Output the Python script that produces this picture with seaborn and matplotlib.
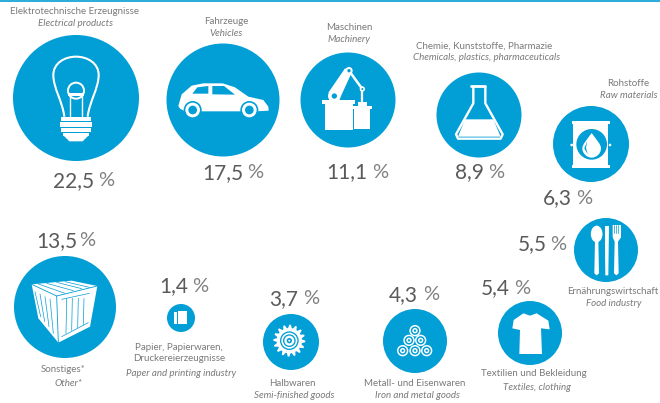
import numpy as np
import pandas as pd
import seaborn as sns
import matplotlib.pyplot as plt
from matplotlib.patches import Circle, Polygon, PathPatch, Rectangle, Ellipse
from matplotlib.path import Path

# data
sectors_de = ['Elektrotechnische Erzeugnisse', 'Fahrzeuge', 'Maschinen', 'Chemie, Kunststoffe, Pharmazie',
              'Rohstoffe', 'Ernährungswirtschaft', 'Textilien und Bekleidung', 'Metall- und Eisenwaren',
              'Halbwaren', 'Papier, Papierwaren,\nDruckereierzeugnisse', 'Sonstiges*']
sectors_en = ['Electrical products', 'Vehicles', 'Machinery', 'Chemicals, plastics, pharmaceuticals',
              'Raw materials', 'Food industry', 'Textiles, clothing', 'Iron and metal goods',
              'Semi-finished goods', 'Paper and printing industry', 'Other*']
shares = [22.5, 17.5, 11.1, 8.9, 6.3, 5.5, 5.4, 4.3, 3.7, 1.4, 13.5]

# layout in picture pixels
bubble_x = [76, 223, 348, 479, 591, 606, 530, 415, 291, 181, 65]
bubble_y = [98, 100, 100, 115, 144, 250, 333, 341, 342, 318, 307]
bubble_r = [63, 56.5, 47.5, 42.5, 38, 32, 32, 32, 28, 14, 51]
num_x = [53, 202, 326, 455, 543, 518, 481, 389, 269, 159, 36]
pct_x = [98, 247, 372, 488, 576, 550, 514, 423, 303, 192, 79]
num_y = [181, 173, 172, 172, 198, 244, 288, 295, 299, 286, 241]
de_x = [75, 226, 349, 484, 628, 613, 534, 415, 292, 179, 63]
de_y = [12, 21, 28, 46, 83, 292, 373, 383, 383, 353, 370]
en_x = [75, 226, 349, 487, 629, 614, 537, 417, 294, 181, 68]
en_y = [24, 34, 40, 58, 96, 304, 387, 396, 395, 374, 383]

BLUE = '#029ed6'
WHITE = 'white'
GREY = '#7a7a7a'
DARK = '#5a5a5a'

sns.set_theme(style='white')
plt.rcParams['font.family'] = ['Lato', 'DejaVu Sans']

fig = plt.figure(figsize=(6.6, 4.03), dpi=100)
ax = fig.add_axes([0, 0, 1, 1])

df = pd.DataFrame({'sector': sectors_de, 'x': bubble_x, 'y': bubble_y, 'r': bubble_r})
sizes = {s: (2 * r * 0.72) ** 2 for s, r in zip(sectors_de, bubble_r)}
sns.scatterplot(data=df, x='x', y='y', size='sector', sizes=sizes, color=BLUE, linewidth=0,
                legend=False, ax=ax, zorder=2)
ax.set_xlim(0, 660)
ax.set_ylim(403, 0)
ax.axis('off')
ax.axhline(0.6, color=BLUE, lw=1.2)

for i in range(len(shares)):
    ax.text(num_x[i], num_y[i], f'{shares[i]:.1f}'.replace('.', ','), fontsize=15, color=DARK,
            ha='left', va='center')
    ax.text(pct_x[i], num_y[i], '%', fontsize=14.5, color='#808080', ha='left', va='center')
    ax.text(de_x[i], de_y[i], sectors_de[i], fontsize=7.0, color=GREY, ha='center', va='center',
            linespacing=1.3)
    ax.text(en_x[i], en_y[i], sectors_en[i], fontsize=7.0, color=GREY, style='italic',
            ha='center', va='center')


# icon helpers: coordinates are 3x zoom units from an origin
def pts(ox, oy, arr):
    return [(ox + a / 3, oy + b / 3) for a, b in arr]


def poly(ox, oy, arr, color=WHITE, z=3):
    ax.add_patch(Polygon(pts(ox, oy, arr), closed=True, fc=color, ec='none', zorder=z))


def line(ox, oy, arr, lw=1.4, color=WHITE, z=3):
    p = pts(ox, oy, arr)
    ax.plot([a for a, b in p], [b for a, b in p], color=color, lw=lw, zorder=z, solid_capstyle='round',
            solid_joinstyle='round')


def circ(ox, oy, x, y, r, color=WHITE, z=3):
    ax.add_patch(Circle((ox + x / 3, oy + y / 3), r / 3, fc=color, ec='none', zorder=z))


def box(ox, oy, x0, y0, x1, y1, color=WHITE, z=3):
    ax.add_patch(Rectangle((ox + x0 / 3, oy + y0 / 3), (x1 - x0) / 3, (y1 - y0) / 3, fc=color, ec='none', zorder=z))


# bulb
verts = pts(0, 0, [(193, 350), (188, 305), (160, 265), (160, 225), (160, 190), (193, 170), (228, 170),
                   (263, 170), (296, 190), (296, 225), (296, 265), (268, 305), (263, 350)])
codes = [Path.MOVETO] + [Path.CURVE4] * 12
ax.add_patch(PathPatch(Path(verts, codes), fc='none', ec=WHITE, lw=1.5, zorder=3))
circ(0, 0, 228, 272, 27)
circ(0, 0, 228, 272, 21, BLUE, 4)
box(0, 0, 205, 278, 252, 287, WHITE, 5)
line(0, 0, [(210, 288), (210, 348)], 1.0)
line(0, 0, [(247, 288), (247, 348)], 1.0)
for y0, y1, w in [(350, 364, 46), (367, 381, 47), (384, 396, 46), (398, 408, 40)]:
    box(0, 0, 228 - w, y0, 228 + w, y1)
poly(0, 0, [(190, 406), (266, 406), (248, 424), (208, 424)])

# car
poly(0, 0, [(535, 318), (545, 283), (575, 257), (610, 250), (668, 250), (705, 262), (745, 290), (790, 300),
            (805, 320), (806, 332), (770, 334), (725, 334), (600, 334), (555, 334), (540, 326)])
poly(0, 0, [(577, 281), (592, 262), (625, 258), (625, 281)], BLUE, 4)
poly(0, 0, [(637, 258), (672, 258), (705, 284), (637, 283)], BLUE, 4)
for cx in (578, 748):
    circ(0, 0, cx, 330, 27, BLUE, 4)
    circ(0, 0, cx, 330, 22, WHITE, 5)
    circ(0, 0, cx, 330, 13, BLUE, 6)

# machine
o = (300, 50)
box(*o, 75, 160, 160, 240)
box(*o, 65, 150, 165, 162)
box(*o, 162, 178, 210, 238)
box(*o, 155, 168, 217, 178)
box(*o, 175, 157, 200, 168)
poly(*o, [(85, 128), (135, 55), (155, 68), (122, 140)])
circ(*o, 147, 62, 11)
circ(*o, 147, 62, 5, BLUE, 4)
circ(*o, 103, 138, 19, WHITE, 4)
circ(*o, 103, 138, 8, BLUE, 5)
line(*o, [(147, 62), (187, 117)], 1.8)
circ(*o, 187, 117, 8)
circ(*o, 187, 117, 3, BLUE, 4)
line(*o, [(187, 117), (187, 155)], 1.6)

# flask
o = (330, 0)
line(*o, [(430, 262), (430, 310), (378, 403), (384, 416), (512, 416), (518, 403), (466, 310), (466, 262)], 1.7)
line(*o, [(423, 258), (466, 258)], 2)
poly(*o, [(405, 358), (490, 358), (512, 410), (384, 410)])

# barrel
o = (555, 105)
box(*o, 55, 50, 160, 190)
box(*o, 50, 48, 165, 58)
box(*o, 50, 180, 165, 190)
circ(*o, 50, 120, 4)
circ(*o, 165, 120, 4)
circ(*o, 110, 118, 46, BLUE, 4)
verts = pts(*o, [(110, 84), (95, 105), (82, 118), (82, 130), (82, 146), (96, 158), (110, 158),
                 (124, 158), (138, 146), (138, 130), (138, 118), (125, 105), (110, 84)])
ax.add_patch(PathPatch(Path(verts, [Path.MOVETO] + [Path.CURVE4] * 12), fc=WHITE, ec='none', zorder=5))
poly(*o, [(97, 108), (88, 130), (98, 148), (93, 128)], BLUE, 6)

# cutlery
o = (330, 200)
ax.add_patch(Ellipse((o[0] + 800 / 3, o[1] + 102 / 3), 35 / 3, 50 / 3, fc=WHITE, ec='none', zorder=3))
poly(*o, [(795, 120), (805, 120), (807, 220), (800, 226), (793, 220)])
poly(*o, [(825, 78), (837, 78), (835, 226), (826, 226), (825, 150)])
poly(*o, [(848, 75), (873, 75), (873, 112), (864, 125), (866, 220), (859, 226), (852, 220), (854, 125), (848, 112)])
for x in (853, 859, 865):
    line(*o, [(x, 74), (x, 100)], 0.5, BLUE, 4)

# t-shirt
poly(*o, [(580, 340), (600, 347), (620, 340), (655, 362), (659, 388), (633, 385), (636, 462), (568, 462), (570, 390),
          (547, 385), (551, 360)])

# rolls
for x, y in [(255, 392), (237, 421), (272, 421), (218, 452), (255, 452), (290, 452)]:
    circ(*o, x, y, 17)
    circ(*o, x, y, 12.5, BLUE, 4)
    circ(*o, x, y, 8, WHITE, 5)
    circ(*o, x, y, 3.5, BLUE, 6)

# gear
o = (260, 312)
ang = np.linspace(0, 2 * np.pi, 64, endpoint=False)
teeth = [48 if int(i / 2) % 2 == 0 else 38 for i in range(64)]
poly(*o, [(88 + t * np.cos(a), 86 + t * np.sin(a)) for t, a in zip(teeth, ang)])
circ(*o, 88, 86, 28, BLUE, 4)
circ(*o, 88, 86, 24, WHITE, 5)
circ(*o, 88, 86, 19, BLUE, 6)
circ(*o, 88, 86, 15, WHITE, 7)
circ(*o, 88, 86, 8, BLUE, 8)
circ(*o, 88, 86, 3, WHITE, 9)

# paper
o = (0, 200)
box(*o, 535, 332, 562, 372)
box(*o, 522, 336, 532, 372)

# crate
o = (20, 270)
poly(*o, [(35, 43), (155, 32), (232, 48), (210, 170), (115, 218), (55, 145)])
line(*o, [(35, 43), (110, 78), (232, 48)], 0.6, BLUE, 4)
line(*o, [(110, 78), (115, 218)], 0.6, BLUE, 4)
line(*o, [(55, 42), (135, 70)], 0.5, BLUE, 4)
line(*o, [(80, 40), (160, 62)], 0.5, BLUE, 4)
line(*o, [(110, 37), (185, 56)], 0.5, BLUE, 4)
line(*o, [(135, 35), (208, 52)], 0.5, BLUE, 4)
line(*o, [(45, 65), (62, 140)], 0.5, BLUE, 4)
line(*o, [(60, 72), (74, 155)], 0.5, BLUE, 4)
line(*o, [(75, 80), (87, 170)], 0.5, BLUE, 4)
line(*o, [(90, 87), (100, 190)], 0.5, BLUE, 4)
line(*o, [(125, 88), (208, 70)], 0.5, BLUE, 4)
line(*o, [(125, 200), (205, 158)], 0.5, BLUE, 4)
for x in (140, 157, 175, 192):
    line(*o, [(x, 85), (x - 2, 190 - (x - 140) * 0.5)], 0.5, BLUE, 4)

fig.savefig('out.png', dpi=100, facecolor='white')
